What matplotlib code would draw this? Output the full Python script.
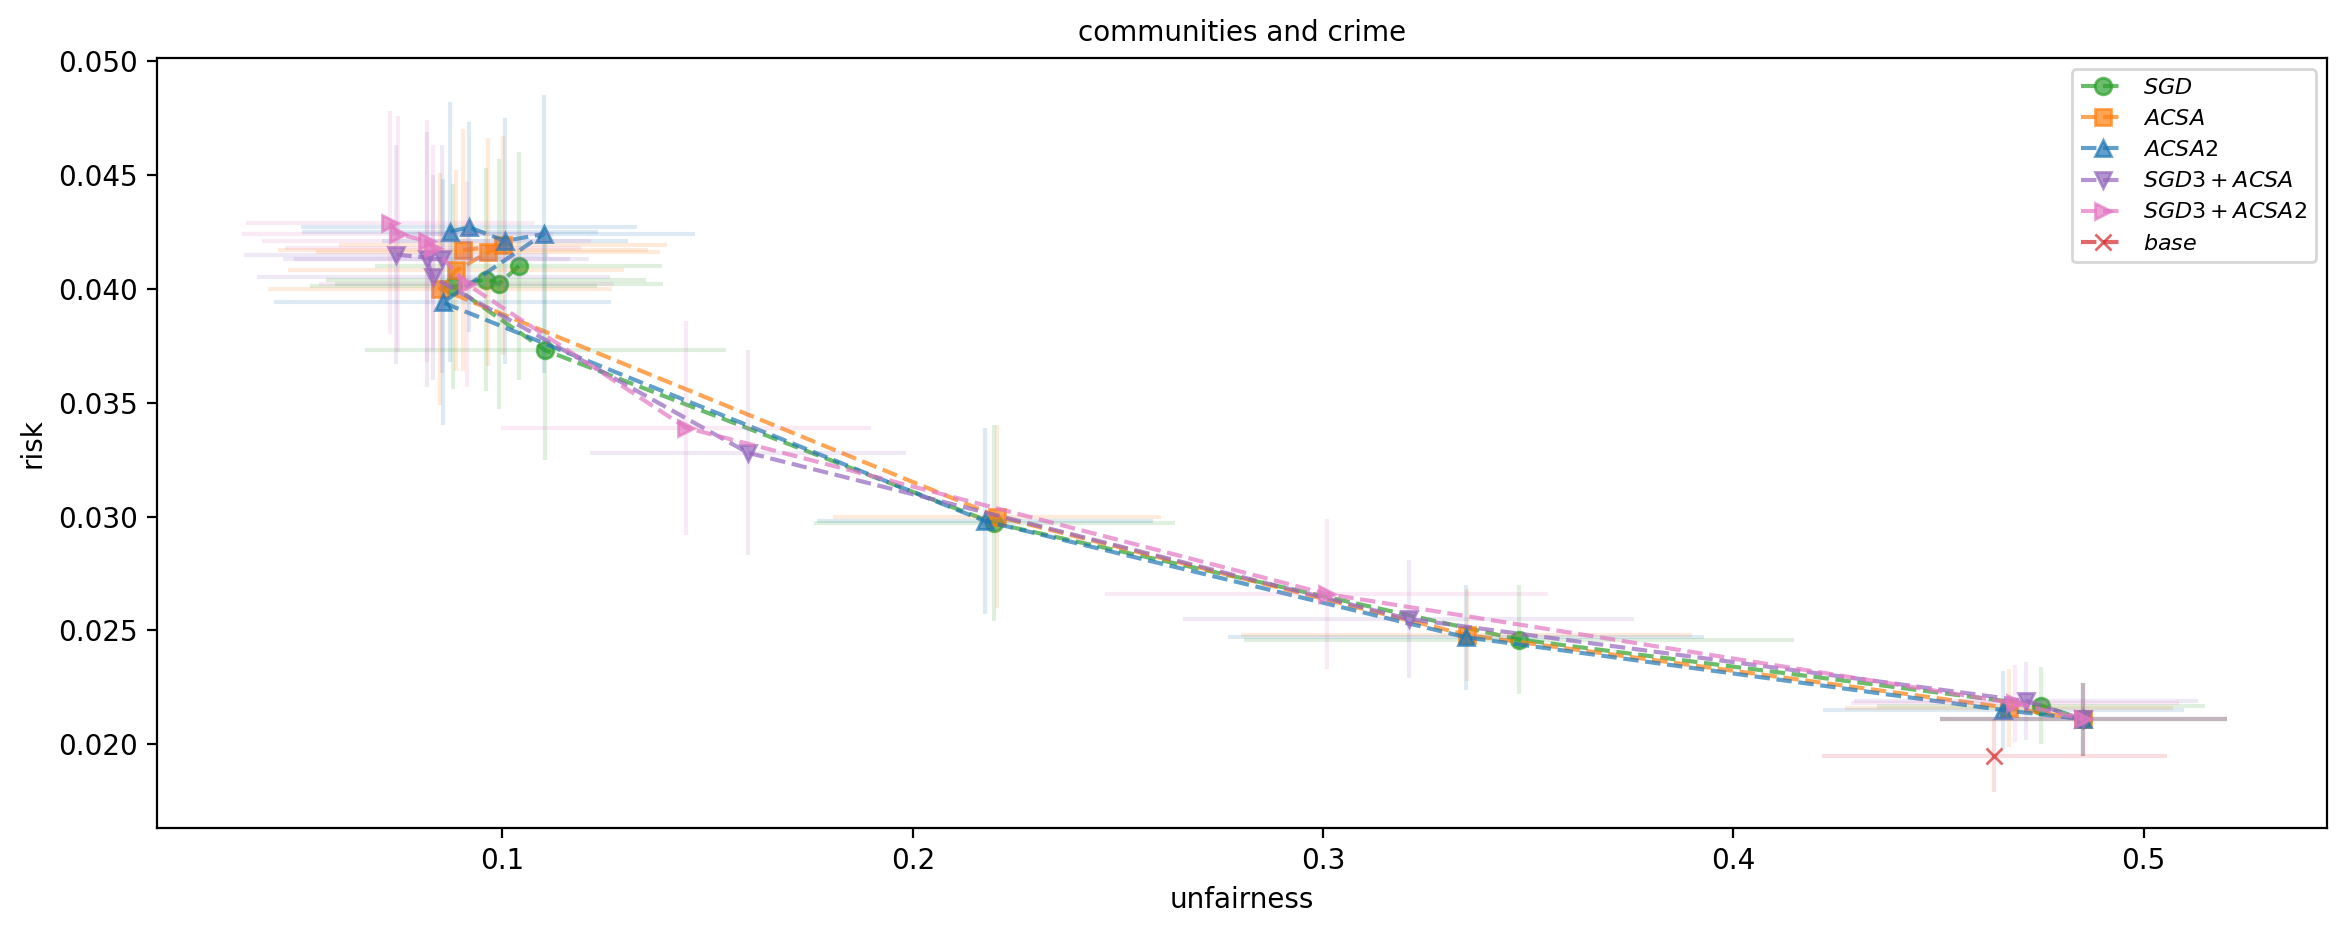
import matplotlib
matplotlib.use('Agg')
import matplotlib.pyplot as plt

# SGD
sgd_x = [0.1040, 0.0991, 0.0961, 0.0880, 0.1104, 0.2199, 0.3477, 0.4750, 0.4853]
sgd_y = [0.0410, 0.0402, 0.0404, 0.0401, 0.0373, 0.0297, 0.0246, 0.0217, 0.0211]
sgd_xerr = [0.035, 0.040, 0.039, 0.035, 0.044, 0.044, 0.067, 0.040, 0.035]
sgd_yerr = [0.0050, 0.0055, 0.0049, 0.0045, 0.0048, 0.0043, 0.0024, 0.0017, 0.0016]

# ACSA
acsa_x = [0.0904, 0.1002, 0.0965, 0.0887, 0.0848, 0.2206, 0.3350, 0.4672, 0.4853]
acsa_y = [0.0417, 0.0419, 0.0416, 0.0408, 0.0400, 0.0300, 0.0248, 0.0216, 0.0211]
acsa_xerr = [0.045, 0.040, 0.042, 0.041, 0.042, 0.040, 0.055, 0.040, 0.035]
acsa_yerr = [0.0053, 0.0048, 0.0050, 0.0044, 0.0051, 0.0040, 0.0020, 0.0017, 0.0016]

# ACSA2
acsa2_x = [0.0872, 0.0918, 0.1006, 0.1100, 0.0854, 0.2176, 0.3348, 0.4658, 0.4853]
acsa2_y = [0.0425, 0.0427, 0.0421, 0.0424, 0.0394, 0.0298, 0.0247, 0.0215, 0.0211]
acsa2_xerr = [0.036, 0.041, 0.030, 0.037, 0.041, 0.041, 0.058, 0.044, 0.035]
acsa2_yerr = [0.0057, 0.0046, 0.0054, 0.0061, 0.0054, 0.0041, 0.0023, 0.0017, 0.0016]

# SGD3 + ACSA
sgd3_acsa_x = [0.0741, 0.0852, 0.0815, 0.0831, 0.1598, 0.3209, 0.4713, 0.4853]
sgd3_acsa_y = [0.0415, 0.0413, 0.0413, 0.0405, 0.0328, 0.0255, 0.0219, 0.0211]
sgd3_acsa_xerr = [0.037, 0.036, 0.035, 0.043, 0.0385, 0.055, 0.042, 0.035]
sgd3_acsa_yerr = [0.0048, 0.0050, 0.0056, 0.0045, 0.0045, 0.0026, 0.0017, 0.0016]

# SGD3 + ACSA2
sgd3_acsa2_x = [0.0726, 0.0746, 0.0815, 0.0831, 0.0913, 0.1447, 0.3009, 0.4686, 0.4853]
sgd3_acsa2_y = [0.0429, 0.0424, 0.0421, 0.0418, 0.0402, 0.0339, 0.0266, 0.0218, 0.0211]
sgd3_acsa2_xerr = [0.035, 0.038, 0.040, 0.036, 0.036, 0.045, 0.054, 0.040, 0.035]
sgd3_acsa2_yerr = [0.0049, 0.0052, 0.0053, 0.0045, 0.0045, 0.0047, 0.0033, 0.0017, 0.0016]

# base
base_x = [0.4636]
base_y = [0.0195]
base_xerr = [0.042]
base_yerr = [0.0016]

series = [
    ('$SGD$', sgd_x, sgd_y, sgd_xerr, sgd_yerr, 'C2', 'o'),
    ('$ACSA$', acsa_x, acsa_y, acsa_xerr, acsa_yerr, 'C1', 's'),
    ('$ACSA2$', acsa2_x, acsa2_y, acsa2_xerr, acsa2_yerr, 'C0', '^'),
    ('$SGD3+ACSA$', sgd3_acsa_x, sgd3_acsa_y, sgd3_acsa_xerr, sgd3_acsa_yerr, 'C4', 'v'),
    ('$SGD3+ACSA2$', sgd3_acsa2_x, sgd3_acsa2_y, sgd3_acsa2_xerr, sgd3_acsa2_yerr, 'C6', '>'),
    ('$base$', base_x, base_y, base_xerr, base_yerr, 'C3', 'x'),
]

fig = plt.figure(figsize=(11.735, 4.675), dpi=200)
ax = fig.add_axes([0.0669, 0.1148, 0.9246, 0.8232])

for label, x, y, xe, ye, c, m in series:
    ax.errorbar(x, y, xerr=xe, yerr=ye, fmt='none', ecolor=c, alpha=0.15, elinewidth=1.5)
    ax.plot(x, y, linestyle='--', marker=m, color=c, alpha=0.7, label=label)

ax.set_xlim(0.0158, 0.5447)
ax.set_ylim(0.01634, 0.05013)
ax.set_title('communities and crime', fontsize=10)
ax.set_xlabel('unfairness')
ax.set_ylabel('risk')
ax.legend(loc='upper right', fontsize=8)

fig.savefig('out.png', dpi=200)
